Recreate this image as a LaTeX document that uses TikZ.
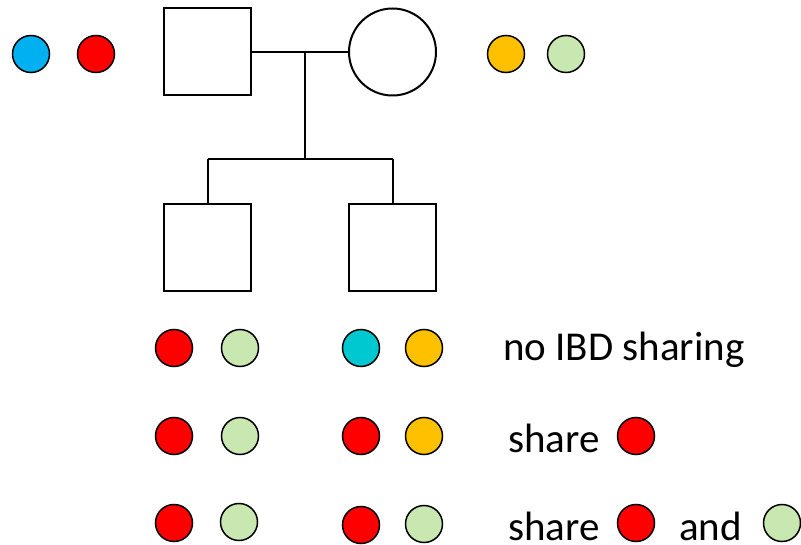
\documentclass[tikz,border=0pt]{standalone}
\usepackage{fontspec}
\setmainfont{Carlito}
\definecolor{cblue}{HTML}{00B0F0}
\definecolor{cred}{HTML}{FF0000}
\definecolor{corange}{HTML}{FFC000}
\definecolor{cgreen}{HTML}{C9E7B0}
\definecolor{cteal}{HTML}{00C8D0}
\begin{document}
\begin{tikzpicture}[x=1pt,y=-1pt,
  allele/.style={circle,draw=black,line width=1.5pt,minimum size=37pt,inner sep=0pt},
  male/.style={rectangle,draw=black,line width=2pt,minimum size=87pt,inner sep=0pt},
  female/.style={circle,draw=black,line width=2pt,minimum size=87pt,inner sep=0pt},
  link/.style={line width=2pt},
  lbl/.style={anchor=base west,inner sep=0pt,text depth=0pt,font=\fontsize{41}{48}\selectfont}]
\useasboundingbox (0,0) rectangle (801,545);
% parents
\node[male] (father) at (207.5,52) {};
\node[female] (mother) at (392.5,52) {};
\node[male] (son1) at (207.5,247.5) {};
\node[male] (son2) at (392.5,247.5) {};
\coordinate (mid) at (305,52);
\coordinate (sib) at (305,159);
\coordinate (s1top) at (207.5,159);
\coordinate (s2top) at (392.5,159);
\draw[link] (father.east) -- (mother.west);
\draw[link] (mid) -- (sib);
\draw[link] (s1top) -- (s2top);
\draw[link] (s1top) -- (son1.north);
\draw[link] (s2top) -- (son2.north);
% parental alleles
\node[allele,fill=cblue] (fa1) at (31,54) {};
\node[allele,fill=cred] (fa2) at (96,54) {};
\node[allele,fill=corange] (ma1) at (506,54) {};
\node[allele,fill=cgreen] (ma2) at (566,54) {};
% row 1
\node[allele,fill=cred] (r1a) at (174,348) {};
\node[allele,fill=cgreen] (r1b) at (240,348) {};
\node[allele,fill=cteal] (r1c) at (361,348) {};
\node[allele,fill=corange] (r1d) at (424,348) {};
\node[lbl] (t1) at (503,361) {no IBD sharing};
% row 2
\node[allele,fill=cred] (r2a) at (174,436) {};
\node[allele,fill=cgreen] (r2b) at (240,436) {};
\node[allele,fill=cred] (r2c) at (361,436) {};
\node[allele,fill=corange] (r2d) at (424,436) {};
\node[lbl] (t2) at (508,452) {share};
\node[allele,fill=cred] (t2c) at (636,436) {};
% row 3
\node[allele,fill=cred] (r3a) at (174,523) {};
\node[allele,fill=cgreen] (r3b) at (239,522) {};
\node[allele,fill=cred] (r3c) at (361,525) {};
\node[allele,fill=cgreen] (r3d) at (424,524) {};
\node[lbl] (t3) at (508,540) {share};
\node[allele,fill=cred] (t3c) at (636,523) {};
\node[lbl] (t3b) at (679,540) {and};
\node[allele,fill=cgreen] (t3d) at (782,523) {};
\end{tikzpicture}
\end{document}
